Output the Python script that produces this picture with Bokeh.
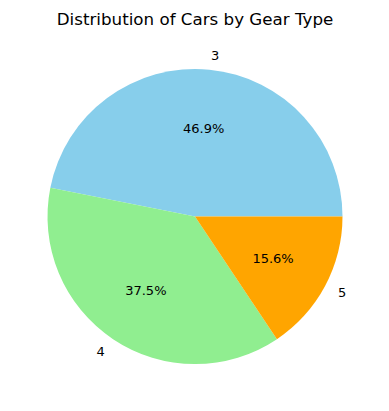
import numpy as np
from bokeh.plotting import figure
from bokeh.models import Range1d, ColumnDataSource
from bokeh.core.properties import value
from bokeh.embed import file_html
from bokeh.resources import INLINE

gears = ["3", "4", "5"]
counts = [15, 12, 5]
colors = ["#87CEEB", "#90EE90", "#FFA500"]
title = "Distribution of Cars by Gear Type"

W, H = 389, 411
cx, cy = 194.5, 216.0
R = 147.5

vals = np.array(counts, dtype=float)
frac = vals / vals.sum()
ends = np.cumsum(frac) * 2 * np.pi
starts = ends - frac * 2 * np.pi
mids = (starts + ends) / 2

p = figure(width=W, height=H, output_backend="svg", toolbar_location=None,
           x_range=Range1d(-cx, W - cx), y_range=Range1d(-(H - cy), cy),
           min_border=0)
p.axis.visible = False
p.grid.visible = False
p.outline_line_color = None
p.background_fill_color = "white"

src = ColumnDataSource(dict(start=starts, end=ends, color=colors))
p.wedge(x=0, y=0, radius=R, start_angle="start", end_angle="end",
        fill_color="color", line_color=None, source=src)

lx = 1.1 * R * np.cos(mids)
ly = 1.1 * R * np.sin(mids)
align = ["left" if x > 0 else "right" for x in lx]
p.text(x=lx, y=ly, text=gears, text_align=align, text_baseline="middle",
       text_font=value("DejaVu Sans"), text_font_size="13px", text_color="black")

px = 0.6 * R * np.cos(mids)
py = 0.6 * R * np.sin(mids)
pct = ["%.1f%%" % (f * 100) for f in frac]
p.text(x=px, y=py, text=pct, text_align="center", text_baseline="middle",
       text_font=value("DejaVu Sans"), text_font_size="13px", text_color="black")

p.text(x=[0], y=[cy - 18], text=[title], text_align="center", text_baseline="middle",
       text_font=value("DejaVu Sans"), text_font_size="16.7px", text_color="black")

open("out.html", "w").write(file_html(p, INLINE))
